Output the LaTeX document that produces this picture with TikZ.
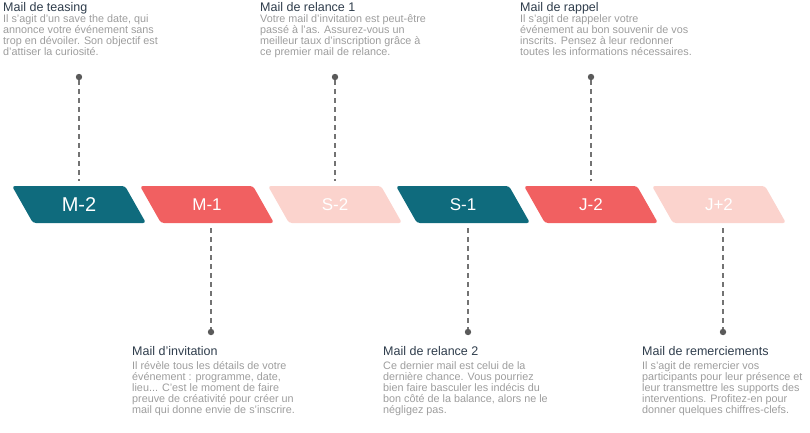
\documentclass[tikz,border=0pt]{standalone}
\usepackage{fontspec}
\setmainfont{Liberation Sans}
\definecolor{tealc}{HTML}{0F6B7D}
\definecolor{coralc}{HTML}{F16061}
\definecolor{pinkc}{HTML}{FBD3CD}
\definecolor{titlec}{HTML}{2F3D4C}
\definecolor{bodyc}{HTML}{9D9D9D}
\definecolor{dotc}{HTML}{5A5A5A}
\newcommand\firstln{\rule{0pt}{10pt}}
\tikzset{
  ttl/.style={font=\fontsize{12.5}{14}\selectfont, text=titlec, inner sep=0pt, anchor=base west},
  bodytxt/.style={font=\fontsize{10.8}{11}\selectfont, text=bodyc, inner sep=0pt, align=left, anchor=north west},
  lab/.style={text=white, inner sep=0pt, anchor=base},
  dotnode/.style={circle, fill=dotc, inner sep=0pt, minimum size=6.4pt},
  conn/.style={draw=dotc!85, line width=1.3pt, dash pattern=on 4.5pt off 4.5pt}
}
\begin{document}
\begin{tikzpicture}[x=1pt,y=-1pt]
\useasboundingbox (0,0) rectangle (810,432);
% parallelograms
\foreach \x/\c/\t/\s [count=\i] in {12/tealc/M-2/20, 140/coralc/M-1/17, 268/pinkc/S-2/17, 396/tealc/S-1/17, 524/coralc/J-2/17, 652/pinkc/J+2/17} {
  \fill[\c, rounded corners=3pt] (\x,186) -- (\x+113,186) -- (\x+134,223) -- (\x+21,223) -- cycle;
  \node[lab, font=\fontsize{\s}{\s}\selectfont] (p\i) at (\x+67,204.5+0.358*\s) {\t};
}
% top texts
\node[ttl] (t1) at (3,11) {Mail de teasing};
\node[bodytxt] (b1) at (3,12.5) {\firstln Il s’agit d’un save the date, qui\\annonce votre événement sans\\trop en dévoiler. Son objectif est\\d’attiser la curiosité.};
\node[ttl] (t3) at (260,11) {Mail de relance 1};
\node[bodytxt] (b3) at (260,12.5) {\firstln Votre mail d’invitation est peut-être\\passé à l’as. Assurez-vous un\\meilleur taux d’inscription grâce à\\ce premier mail de relance.};
\node[ttl] (t5) at (520,11) {Mail de rappel};
\node[bodytxt] (b5) at (520,12.5) {\firstln Il s’agit de rappeler votre\\événement au bon souvenir de vos\\inscrits. Pensez à leur redonner\\toutes les informations nécessaires.};
% bottom texts
\node[ttl] (t2) at (132,355) {Mail d’invitation};
\node[bodytxt] (b2) at (132,359.5) {\firstln Il révèle tous les détails de votre\\événement : programme, date,\\lieu... C’est le moment de faire\\preuve de créativité pour créer un\\mail qui donne envie de s’inscrire.};
\node[ttl] (t4) at (383,355) {Mail de relance 2};
\node[bodytxt] (b4) at (383,359.5) {\firstln Ce dernier mail est celui de la\\dernière chance. Vous pourriez\\bien faire basculer les indécis du\\bon côté de la balance, alors ne le\\négligez pas.};
\node[ttl] (t6) at (642,355) {Mail de remerciements};
\node[bodytxt] (b6) at (642,359.5) {\firstln Il s’agit de remercier vos\\participants pour leur présence et\\leur transmettre les supports des\\interventions. Profitez-en pour\\donner quelques chiffres-clefs.};
% dots and connectors
\node[dotnode] (d1) at (79,77) {};
\node[dotnode] (d3) at (335,77) {};
\node[dotnode] (d5) at (591,77) {};
\node[dotnode] (d2) at (211,332) {};
\node[dotnode] (d4) at (468,332) {};
\node[dotnode] (d6) at (723,332) {};
\coordinate (e1) at (79,181);
\coordinate (e3) at (335,181);
\coordinate (e5) at (591,181);
\coordinate (e2) at (211,228);
\coordinate (e4) at (468,228);
\coordinate (e6) at (723,228);
\draw[conn] (d1) -- (e1);
\draw[conn] (d3) -- (e3);
\draw[conn] (d5) -- (e5);
\draw[conn] (e2) -- (d2);
\draw[conn] (e4) -- (d4);
\draw[conn] (e6) -- (d6);
\end{tikzpicture}
\end{document}
